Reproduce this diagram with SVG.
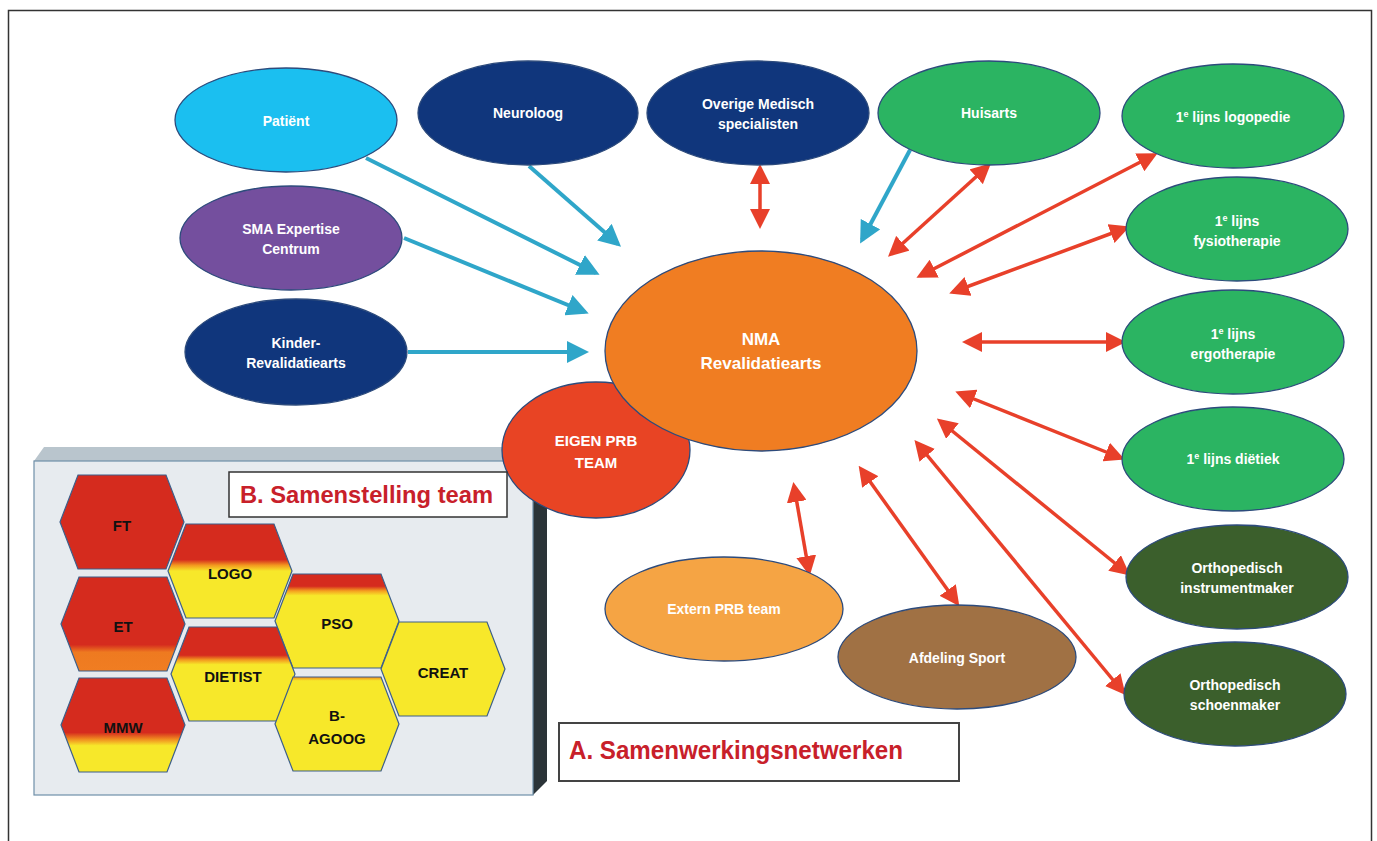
<svg xmlns="http://www.w3.org/2000/svg" width="1377" height="841" viewBox="0 0 1377 841">
<style>
.n{stroke:#2d4b7c;stroke-width:1.3}
.t{font-family:"Liberation Sans",Arial,sans-serif;font-weight:bold;fill:#fff;text-anchor:middle;font-size:14px}
.h{font-family:"Liberation Sans",Arial,sans-serif;font-weight:bold;fill:#111;text-anchor:middle;font-size:15px}
.hex{stroke:#3d5f8a;stroke-width:1.2}
.lb{font-family:"Liberation Sans",Arial,sans-serif;font-weight:bold;fill:#c8202a}
.bl{stroke:#2fa6c9;stroke-width:4;fill:none}
.rd{stroke:#e8402a;stroke-width:3.5;fill:none}
.sup{font-size:9px}
</style>
<defs>
<marker id="ab" markerUnits="userSpaceOnUse" markerWidth="22" markerHeight="22" viewBox="0 0 22 22" refX="18" refY="11" orient="auto"><path d="M0,0 L22,11 L0,22z" fill="#2fa6c9"/></marker>
<marker id="ar" markerUnits="userSpaceOnUse" markerWidth="20" markerHeight="20" viewBox="0 0 20 20" refX="16" refY="10" orient="auto-start-reverse"><path d="M0,0 L20,10 L0,20z" fill="#e8402a"/></marker>
<polygon id="hx" points="-62,0 -44,-47 44,-47 62,0 44,47 -44,47"/>
<linearGradient id="gR" x1="0" y1="0" x2="0" y2="1"><stop offset="0" stop-color="#d52b1e"/><stop offset="1" stop-color="#d52b1e"/></linearGradient>
<linearGradient id="gY" x1="0" y1="0" x2="0" y2="1"><stop offset="0" stop-color="#f7e82a"/><stop offset="1" stop-color="#f7e82a"/></linearGradient>
<linearGradient id="gLogo" x1="0" y1="0" x2="0" y2="1"><stop offset="0" stop-color="#d52b1e"/><stop offset="0.38" stop-color="#d52b1e"/><stop offset="0.44" stop-color="#f39a1f"/><stop offset="0.5" stop-color="#f7e82a"/><stop offset="1" stop-color="#f7e82a"/></linearGradient>
<linearGradient id="gEt" x1="0" y1="0" x2="0" y2="1"><stop offset="0" stop-color="#d52b1e"/><stop offset="0.72" stop-color="#d52b1e"/><stop offset="0.8" stop-color="#ee7a20"/><stop offset="1" stop-color="#f07d22"/></linearGradient>
<linearGradient id="gPso" x1="0" y1="0" x2="0" y2="1"><stop offset="0" stop-color="#d52b1e"/><stop offset="0.13" stop-color="#d52b1e"/><stop offset="0.18" stop-color="#f5a020"/><stop offset="0.23" stop-color="#f7e82a"/><stop offset="1" stop-color="#f7e82a"/></linearGradient>
<linearGradient id="gDiet" x1="0" y1="0" x2="0" y2="1"><stop offset="0" stop-color="#d52b1e"/><stop offset="0.3" stop-color="#d52b1e"/><stop offset="0.35" stop-color="#f39a1f"/><stop offset="0.4" stop-color="#f7e82a"/><stop offset="1" stop-color="#f7e82a"/></linearGradient>
<linearGradient id="gMmw" x1="0" y1="0" x2="0" y2="1"><stop offset="0" stop-color="#d52b1e"/><stop offset="0.58" stop-color="#d52b1e"/><stop offset="0.65" stop-color="#f08a20"/><stop offset="0.72" stop-color="#f7e82a"/><stop offset="1" stop-color="#f7e82a"/></linearGradient>
<linearGradient id="gAgo" x1="0" y1="0" x2="0" y2="1"><stop offset="0" stop-color="#f08a20"/><stop offset="0.04" stop-color="#f7e82a"/><stop offset="1" stop-color="#f7e82a"/></linearGradient>
</defs>
<rect width="1377" height="841" fill="#fff"/>
<rect x="8.5" y="10.5" width="1363" height="850" fill="none" stroke="#333" stroke-width="1.5"/>

<g id="panelB">
<polygon points="34,461 44,447 547,447 533,461" fill="#b9c5cd"/>
<polygon points="533,461 547,447 547,781 533,795" fill="#2b3438"/>
<rect x="34" y="461" width="499" height="334" fill="#e7ebef" stroke="#6f8fa8" stroke-width="1.2"/>
</g>

<g id="connectors">
<line class="bl" x1="366" y1="158" x2="596" y2="273" marker-end="url(#ab)"/>
<line class="bl" x1="529" y1="166" x2="618" y2="244" marker-end="url(#ab)"/>
<line class="bl" x1="404" y1="238" x2="585" y2="312" marker-end="url(#ab)"/>
<line class="bl" x1="408" y1="352" x2="585" y2="352" marker-end="url(#ab)"/>
<line class="bl" x1="910" y1="150" x2="862" y2="240" marker-end="url(#ab)"/>
<line class="rd" x1="760" y1="168" x2="760" y2="225" marker-start="url(#ar)" marker-end="url(#ar)"/>
<line class="rd" x1="988" y1="166" x2="891" y2="254" marker-start="url(#ar)" marker-end="url(#ar)"/>
<line class="rd" x1="1154" y1="155" x2="920" y2="276" marker-start="url(#ar)" marker-end="url(#ar)"/>
<line class="rd" x1="1126" y1="228" x2="953" y2="292" marker-start="url(#ar)" marker-end="url(#ar)"/>
<line class="rd" x1="966" y1="342" x2="1122" y2="342" marker-start="url(#ar)" marker-end="url(#ar)"/>
<line class="rd" x1="959" y1="393" x2="1121" y2="458" marker-start="url(#ar)" marker-end="url(#ar)"/>
<line class="rd" x1="940" y1="421" x2="1127" y2="573" marker-start="url(#ar)" marker-end="url(#ar)"/>
<line class="rd" x1="917" y1="443" x2="1123" y2="692" marker-start="url(#ar)" marker-end="url(#ar)"/>
<line class="rd" x1="861" y1="469" x2="957" y2="603" marker-start="url(#ar)" marker-end="url(#ar)"/>
<line class="rd" x1="794" y1="486" x2="809" y2="572" marker-start="url(#ar)" marker-end="url(#ar)"/>
</g>

<g id="patient"><ellipse class="n" cx="286" cy="120" rx="111" ry="52" fill="#1bbff0"/><text class="t" x="286" y="126">Patiënt</text></g>
<g id="neuroloog"><ellipse class="n" cx="528" cy="113" rx="110" ry="52" fill="#10367c"/><text class="t" x="528" y="118">Neuroloog</text></g>
<g id="overige"><ellipse class="n" cx="758" cy="113" rx="111" ry="52" fill="#10367c"/><text class="t" x="758" y="109">Overige Medisch</text><text class="t" x="758" y="129">specialisten</text></g>
<g id="huisarts"><ellipse class="n" cx="989" cy="113" rx="111" ry="52" fill="#2bb462"/><text class="t" x="989" y="118">Huisarts</text></g>
<g id="logopedie"><ellipse class="n" cx="1233" cy="116" rx="111" ry="52" fill="#2bb462"/><text class="t" x="1233" y="122">1<tspan class="sup" dy="-5">e</tspan><tspan dy="5"> lijns logopedie</tspan></text></g>
<g id="fysio"><ellipse class="n" cx="1237" cy="229" rx="111" ry="52" fill="#2bb462"/><text class="t" x="1237" y="226">1<tspan class="sup" dy="-5">e</tspan><tspan dy="5"> lijns</tspan></text><text class="t" x="1237" y="246">fysiotherapie</text></g>
<g id="ergo"><ellipse class="n" cx="1233" cy="342" rx="111" ry="52" fill="#2bb462"/><text class="t" x="1233" y="339">1<tspan class="sup" dy="-5">e</tspan><tspan dy="5"> lijns</tspan></text><text class="t" x="1233" y="359">ergotherapie</text></g>
<g id="dietiek"><ellipse class="n" cx="1233" cy="459" rx="111" ry="52" fill="#2bb462"/><text class="t" x="1233" y="464">1<tspan class="sup" dy="-5">e</tspan><tspan dy="5"> lijns diëtiek</tspan></text></g>
<g id="instrumentmaker"><ellipse class="n" cx="1237" cy="577" rx="111" ry="52" fill="#3b5f2c"/><text class="t" x="1237" y="573">Orthopedisch</text><text class="t" x="1237" y="593">instrumentmaker</text></g>
<g id="schoenmaker"><ellipse class="n" cx="1235" cy="694" rx="111" ry="52" fill="#3b5f2c"/><text class="t" x="1235" y="690">Orthopedisch</text><text class="t" x="1235" y="710">schoenmaker</text></g>
<g id="sport"><ellipse class="n" cx="957" cy="657" rx="119" ry="52" fill="#a07144"/><text class="t" x="957" y="663">Afdeling Sport</text></g>
<g id="extern"><ellipse class="n" cx="724" cy="609" rx="119" ry="52" fill="#f5a444"/><text class="t" x="724" y="614">Extern PRB team</text></g>
<g id="sma"><ellipse class="n" cx="291" cy="238" rx="111" ry="52" fill="#744f9e"/><text class="t" x="291" y="234">SMA Expertise</text><text class="t" x="291" y="254">Centrum</text></g>
<g id="kinder"><ellipse class="n" cx="296" cy="352" rx="111" ry="53" fill="#10367c"/><text class="t" x="296" y="348">Kinder-</text><text class="t" x="296" y="368">Revalidatiearts</text></g>
<g id="eigen"><ellipse class="n" cx="596" cy="450" rx="94" ry="68" fill="#e84424"/><text class="t" x="596" y="446" style="font-size:15px">EIGEN PRB</text><text class="t" x="596" y="468" style="font-size:15px">TEAM</text></g>
<g id="nma"><ellipse class="n" cx="761" cy="351" rx="156" ry="100" fill="#f07d22"/><text class="t" x="761" y="345" style="font-size:17px">NMA</text><text class="t" x="761" y="369" style="font-size:17px">Revalidatiearts</text></g>

<g id="labelB"><rect x="229" y="472" width="278" height="45" fill="#fff" stroke="#333" stroke-width="1.5"/><text class="lb" x="240" y="503" textLength="253" lengthAdjust="spacingAndGlyphs" style="font-size:24px">B. Samenstelling team</text></g>
<g id="labelA"><rect x="559" y="723" width="400" height="58" fill="#fff" stroke="#444" stroke-width="2"/><text class="lb" x="569" y="759" textLength="334" lengthAdjust="spacingAndGlyphs" style="font-size:26px">A. Samenwerkingsnetwerken</text></g>

<g id="hex-ft"><use href="#hx" x="122" y="522" class="hex" fill="url(#gR)"/><text class="h" x="122" y="531">FT</text></g>
<g id="hex-logo"><use href="#hx" x="230" y="571" class="hex" fill="url(#gLogo)"/><text class="h" x="230" y="579">LOGO</text></g>
<g id="hex-et"><use href="#hx" x="123" y="624" class="hex" fill="url(#gEt)"/><text class="h" x="123" y="632">ET</text></g>
<g id="hex-pso"><use href="#hx" x="337" y="621" class="hex" fill="url(#gPso)"/><text class="h" x="337" y="629">PSO</text></g>
<g id="hex-dietist"><use href="#hx" x="233" y="674" class="hex" fill="url(#gDiet)"/><text class="h" x="233" y="682">DIETIST</text></g>
<g id="hex-creat"><use href="#hx" x="443" y="669" class="hex" fill="url(#gY)"/><text class="h" x="443" y="678">CREAT</text></g>
<g id="hex-mmw"><use href="#hx" x="123" y="725" class="hex" fill="url(#gMmw)"/><text class="h" x="123" y="733">MMW</text></g>
<g id="hex-bagoog"><use href="#hx" x="337" y="724" class="hex" fill="url(#gAgo)"/><text class="h" x="337" y="721">B-</text><text class="h" x="337" y="744">AGOOG</text></g>
</svg>
